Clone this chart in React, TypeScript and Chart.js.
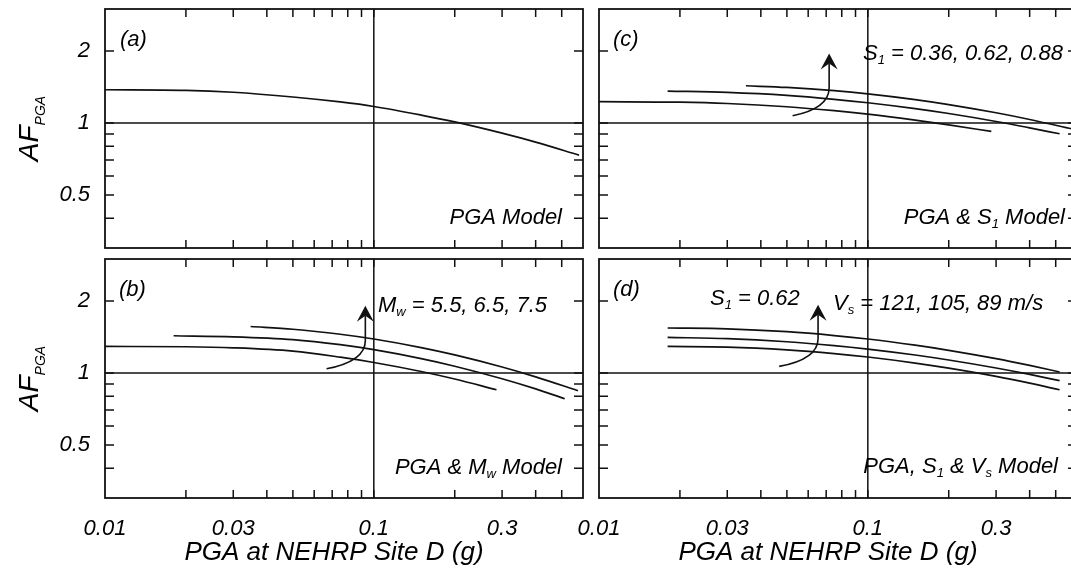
import React, { useEffect, useRef } from 'react';
import { Chart, registerables } from 'chart.js';

Chart.register(...registerables);

// ---------- axes ----------
const X_MIN = 0.01;
const X_MAX = 0.6;
const Y_MIN = 0.3;
const Y_MAX = 3;
const xLabelTicks = [0.01, 0.03, 0.1, 0.3];
const yLabelTicks = [0.5, 1, 2];
const xMarkTicks = [0.02, 0.03, 0.04, 0.05, 0.06, 0.07, 0.08, 0.09, 0.1, 0.2, 0.3, 0.4, 0.5];
const yMarkTicks = [0.4, 0.5, 0.6, 0.7, 0.8, 0.9, 1, 2];
const refX = 0.1;
const refY = 1;

// ---------- (a) PGA model ----------
const pgaA = [0.01, 0.02, 0.03, 0.05, 0.075, 0.1, 0.15, 0.2, 0.3, 0.4, 0.58];
const afA = [1.378, 1.37, 1.345, 1.285, 1.225, 1.173, 1.08, 1.011, 0.907, 0.832, 0.734];

// ---------- (b) PGA & Mw model (Mw = 5.5, 6.5, 7.5) ----------
const pgaB55 = [0.01, 0.02, 0.03, 0.05, 0.075, 0.1, 0.15, 0.2, 0.286];
const afB55 = [1.292, 1.288, 1.275, 1.235, 1.165, 1.107, 1.015, 0.944, 0.851];
const pgaB65 = [0.018, 0.03, 0.05, 0.075, 0.1, 0.15, 0.2, 0.3, 0.4, 0.513];
const afB65 = [1.432, 1.418, 1.38, 1.314, 1.252, 1.149, 1.068, 0.946, 0.858, 0.781];
const pgaB75 = [0.0348, 0.05, 0.075, 0.1, 0.15, 0.2, 0.3, 0.4, 0.575];
const afB75 = [1.566, 1.525, 1.453, 1.388, 1.278, 1.191, 1.06, 0.964, 0.843];

// ---------- (c) PGA & S1 model (S1 = 0.36, 0.62, 0.88) ----------
const pgaC036 = [0.01, 0.02, 0.03, 0.05, 0.075, 0.1, 0.15, 0.2, 0.288];
const afC036 = [1.228, 1.222, 1.207, 1.17, 1.126, 1.089, 1.029, 0.983, 0.922];
const pgaC062 = [0.018, 0.03, 0.05, 0.075, 0.1, 0.15, 0.2, 0.3, 0.4, 0.517];
const afC062 = [1.361, 1.343, 1.305, 1.257, 1.216, 1.149, 1.096, 1.015, 0.954, 0.902];
const pgaC088 = [0.0352, 0.05, 0.075, 0.1, 0.15, 0.2, 0.3, 0.4, 0.6];
const afC088 = [1.432, 1.409, 1.366, 1.325, 1.254, 1.195, 1.104, 1.035, 0.934];

// ---------- (d) PGA, S1 & Vs model (Vs = 121, 105, 89 m/s) ----------
const pgaD = [0.018, 0.03, 0.05, 0.075, 0.1, 0.15, 0.2, 0.3, 0.4, 0.517];
const afD121 = [1.292, 1.284, 1.25, 1.206, 1.167, 1.101, 1.048, 0.968, 0.907, 0.851];
const afD105 = [1.409, 1.393, 1.352, 1.303, 1.26, 1.19, 1.134, 1.05, 0.987, 0.929];
const afD89 = [1.543, 1.531, 1.489, 1.435, 1.388, 1.308, 1.245, 1.149, 1.076, 1.01];

// ---------- arrows (data coordinates: from, to) ----------
const arrowB = { from: [0.0667, 1.042], to: [0.093, 1.912] };
const arrowC = { from: [0.0525, 1.073], to: [0.0718, 1.956] };
const arrowD = { from: [0.0468, 1.066], to: [0.0653, 1.931] };

const FONT = '"Liberation Sans", Arial, Helvetica, sans-serif';
const INK = '#111111';
const X_TITLE = 'PGA at NEHRP Site D (g)';

type Part = { t: string; sub?: boolean };
type Note = { parts: Part[]; dx: number; dy: number; align: 'left' | 'right' };
type PanelCfg = {
  key: string;
  left: number;
  top: number;
  w: number;
  h: number;
  areaLeft: number;
  padRight: number;
  bottomH: number;
  showX: boolean;
  showY: boolean;
  series: [number[], number[]][];
  arrow: { from: number[]; to: number[] } | null;
  notes: Note[];
};

const panels: PanelCfg[] = [
  {
    key: 'a', left: 0, top: 0, w: 590, h: 250, areaLeft: 105, padRight: 7, bottomH: 2,
    showX: false, showY: true,
    series: [[pgaA, afA]],
    arrow: null,
    notes: [
      { parts: [{ t: '(a)' }], dx: 15, dy: 37, align: 'left' },
      { parts: [{ t: 'PGA Model' }], dx: -21, dy: 215, align: 'right' },
    ],
  },
  {
    key: 'b', left: 0, top: 250, w: 590, h: 320, areaLeft: 105, padRight: 7, bottomH: 72,
    showX: true, showY: true,
    series: [[pgaB55, afB55], [pgaB65, afB65], [pgaB75, afB75]],
    arrow: arrowB,
    notes: [
      { parts: [{ t: '(b)' }], dx: 14, dy: 37, align: 'left' },
      { parts: [{ t: 'M' }, { t: 'w', sub: true }, { t: ' = 5.5, 6.5, 7.5' }], dx: 273, dy: 53, align: 'left' },
      { parts: [{ t: 'PGA & M' }, { t: 'w', sub: true }, { t: ' Model' }], dx: -21, dy: 215, align: 'right' },
    ],
  },
  {
    key: 'c', left: 560, top: 0, w: 520, h: 250, areaLeft: 39, padRight: 3, bottomH: 2,
    showX: false, showY: false,
    series: [[pgaC036, afC036], [pgaC062, afC062], [pgaC088, afC088]],
    arrow: arrowC,
    notes: [
      { parts: [{ t: '(c)' }], dx: 14, dy: 37, align: 'left' },
      { parts: [{ t: 'S' }, { t: '1', sub: true }, { t: ' = 0.36, 0.62, 0.88' }], dx: 264, dy: 51, align: 'left' },
      { parts: [{ t: 'PGA & S' }, { t: '1', sub: true }, { t: ' Model' }], dx: -12, dy: 215, align: 'right' },
    ],
  },
  {
    key: 'd', left: 560, top: 250, w: 520, h: 320, areaLeft: 39, padRight: 3, bottomH: 72,
    showX: true, showY: false,
    series: [[pgaD, afD121], [pgaD, afD105], [pgaD, afD89]],
    arrow: arrowD,
    notes: [
      { parts: [{ t: '(d)' }], dx: 14, dy: 37, align: 'left' },
      { parts: [{ t: 'S' }, { t: '1', sub: true }, { t: ' = 0.62' }], dx: 111, dy: 46, align: 'left' },
      { parts: [{ t: 'V' }, { t: 's', sub: true }, { t: ' = 121, 105, 89 m/s' }], dx: 234, dy: 51, align: 'left' },
      { parts: [{ t: 'PGA, S' }, { t: '1', sub: true }, { t: ' & V' }, { t: 's', sub: true }, { t: ' Model' }], dx: -19, dy: 214, align: 'right' },
    ],
  },
];

function drawRich(ctx: CanvasRenderingContext2D, parts: Part[], x: number, y: number, align: string, size: number) {
  const subSize = 13;
  const widths = parts.map((p) => {
    ctx.font = `italic ${p.sub ? subSize : size}px ${FONT}`;
    return ctx.measureText(p.t).width;
  });
  const total = widths.reduce((s, v) => s + v, 0);
  let cx = align === 'right' ? x - total : align === 'center' ? x - total / 2 : x;
  ctx.textAlign = 'left';
  ctx.textBaseline = 'alphabetic';
  parts.forEach((p, i) => {
    ctx.font = `italic ${p.sub ? subSize : size}px ${FONT}`;
    ctx.fillText(p.t, cx, p.sub ? y + 4 : y);
    cx += widths[i];
  });
}

function overlay(cfg: PanelCfg) {
  return {
    id: 'overlay_' + cfg.key,
    afterDraw(chart: any) {
      const { ctx, chartArea: a, scales } = chart;
      const x = scales.x;
      const y = scales.y;
      ctx.save();
      ctx.strokeStyle = INK;
      ctx.fillStyle = INK;
      // inward tick marks
      ctx.lineWidth = 1.5;
      ctx.beginPath();
      for (const v of xMarkTicks) {
        const px = x.getPixelForValue(v);
        ctx.moveTo(px, a.top);
        ctx.lineTo(px, a.top + 8);
        ctx.moveTo(px, a.bottom);
        ctx.lineTo(px, a.bottom - 8);
      }
      for (const v of yMarkTicks) {
        const py = y.getPixelForValue(v);
        ctx.moveTo(a.left, py);
        ctx.lineTo(a.left + 9, py);
        ctx.moveTo(a.right, py);
        ctx.lineTo(a.right - 9, py);
      }
      ctx.stroke();
      // frame
      ctx.lineWidth = 1.8;
      ctx.strokeRect(a.left, a.top, a.right - a.left, a.bottom - a.top);

      // arrow
      if (cfg.arrow) {
        const sx = x.getPixelForValue(cfg.arrow.from[0]);
        const sy = y.getPixelForValue(cfg.arrow.from[1]);
        const tx = x.getPixelForValue(cfg.arrow.to[0]);
        const ty = y.getPixelForValue(cfg.arrow.to[1]);
        const d = sy - ty;
        ctx.lineWidth = 1.6;
        ctx.beginPath();
        ctx.moveTo(sx, sy);
        ctx.quadraticCurveTo(tx, sy - 0.12 * d, tx, sy - 0.45 * d);
        ctx.lineTo(tx, ty + 10);
        ctx.stroke();
        ctx.beginPath();
        ctx.moveTo(tx, ty);
        ctx.lineTo(tx - 8.5, ty + 16);
        ctx.lineTo(tx, ty + 10);
        ctx.lineTo(tx + 8.5, ty + 16);
        ctx.closePath();
        ctx.fill();
      }

      // annotations
      ctx.fillStyle = '#000';
      for (const n of cfg.notes) {
        const px = n.align === 'right' ? a.right + n.dx : a.left + n.dx;
        drawRich(ctx, n.parts, px, a.top + n.dy, n.align, 22);
      }

      // y-axis title AF_PGA
      if (cfg.showY) {
        ctx.save();
        ctx.translate(a.left - 67, (a.top + a.bottom) / 2);
        ctx.rotate(-Math.PI / 2);
        ctx.font = `italic 28px ${FONT}`;
        const w1 = ctx.measureText('AF').width;
        ctx.font = `italic 14px ${FONT}`;
        const w2 = ctx.measureText('PGA').width;
        const start = -(w1 + w2) / 2;
        ctx.textAlign = 'left';
        ctx.textBaseline = 'alphabetic';
        ctx.font = `italic 28px ${FONT}`;
        ctx.fillText('AF', start, 0);
        ctx.font = `italic 14px ${FONT}`;
        ctx.fillText('PGA', start + w1, 7);
        ctx.restore();
      }

      // x-axis title
      if (cfg.showX) {
        ctx.font = `italic 26px ${FONT}`;
        ctx.textAlign = 'center';
        ctx.textBaseline = 'alphabetic';
        ctx.fillText(X_TITLE, (a.left + a.right) / 2 - 10, a.bottom + 62);
      }
      ctx.restore();
    },
  };
}

function fmt(v: number) {
  return String(v);
}

function Panel({ cfg }: { cfg: PanelCfg }) {
  const ref = useRef<HTMLCanvasElement>(null);
  useEffect(() => {
    const canvas = ref.current;
    if (!canvas) return;
    const lineStyle = {
      borderColor: INK,
      borderWidth: 1.7,
      pointRadius: 0,
      fill: false,
      cubicInterpolationMode: 'monotone' as const,
    };
    const datasets: any[] = cfg.series.map(([xs, ys]) => ({
      ...lineStyle,
      data: xs.map((xv, i) => ({ x: xv, y: ys[i] })),
    }));
    datasets.push({
      ...lineStyle,
      borderWidth: 1.5,
      data: [{ x: X_MIN, y: refY }, { x: X_MAX, y: refY }],
    });
    datasets.push({
      ...lineStyle,
      borderWidth: 1.5,
      data: [{ x: refX, y: Y_MIN }, { x: refX, y: Y_MAX }],
    });
    const tickFont = { family: FONT, size: 22, style: 'italic' as const };
    const chart = new Chart(canvas, {
      type: 'line',
      data: { datasets },
      options: {
        animation: false,
        responsive: false,
        maintainAspectRatio: false,
        events: [],
        layout: { padding: { top: 9, right: cfg.padRight, left: 0, bottom: 0 } },
        plugins: { legend: { display: false }, tooltip: { enabled: false }, title: { display: false } },
        scales: {
          x: {
            type: 'logarithmic',
            min: X_MIN,
            max: X_MAX,
            position: 'bottom',
            grid: { display: false, drawTicks: false },
            border: { display: false },
            ticks: {
              display: cfg.showX,
              padding: 18,
              autoSkip: false,
              maxRotation: 0,
              minRotation: 0,
              color: '#000',
              font: tickFont,
              callback: (v: any) => fmt(Number(v)),
            },
            afterBuildTicks: (s: any) => {
              s.ticks = xLabelTicks.map((v) => ({ value: v }));
            },
            afterFit: (s: any) => {
              s.height = cfg.bottomH;
              s.paddingLeft = 0;
              s.paddingRight = 0;
              s.paddingTop = 0;
              s.paddingBottom = 0;
            },
          },
          y: {
            type: 'logarithmic',
            min: Y_MIN,
            max: Y_MAX,
            position: 'left',
            grid: { display: false, drawTicks: false },
            border: { display: false },
            ticks: {
              display: cfg.showY,
              padding: 15,
              autoSkip: false,
              color: '#000',
              font: tickFont,
              callback: (v: any) => fmt(Number(v)),
            },
            afterBuildTicks: (s: any) => {
              s.ticks = yLabelTicks.map((v) => ({ value: v }));
            },
            afterFit: (s: any) => {
              s.width = cfg.areaLeft;
              s.paddingLeft = 0;
              s.paddingRight = 0;
              s.paddingTop = 0;
              s.paddingBottom = 0;
            },
          },
        },
      } as any,
      plugins: [overlay(cfg)],
    });
    return () => chart.destroy();
  }, [cfg]);
  return (
    <canvas
      ref={ref}
      width={cfg.w}
      height={cfg.h}
      style={{ position: 'absolute', left: cfg.left, top: cfg.top, width: cfg.w, height: cfg.h }}
    />
  );
}

export default function App() {
  return (
    <div
      style={{
        position: 'absolute',
        left: 0,
        top: 0,
        width: 1071,
        height: 570,
        overflow: 'hidden',
        background: '#ffffff',
      }}
    >
      {panels.map((p) => (
        <Panel key={p.key} cfg={p} />
      ))}
    </div>
  );
}
